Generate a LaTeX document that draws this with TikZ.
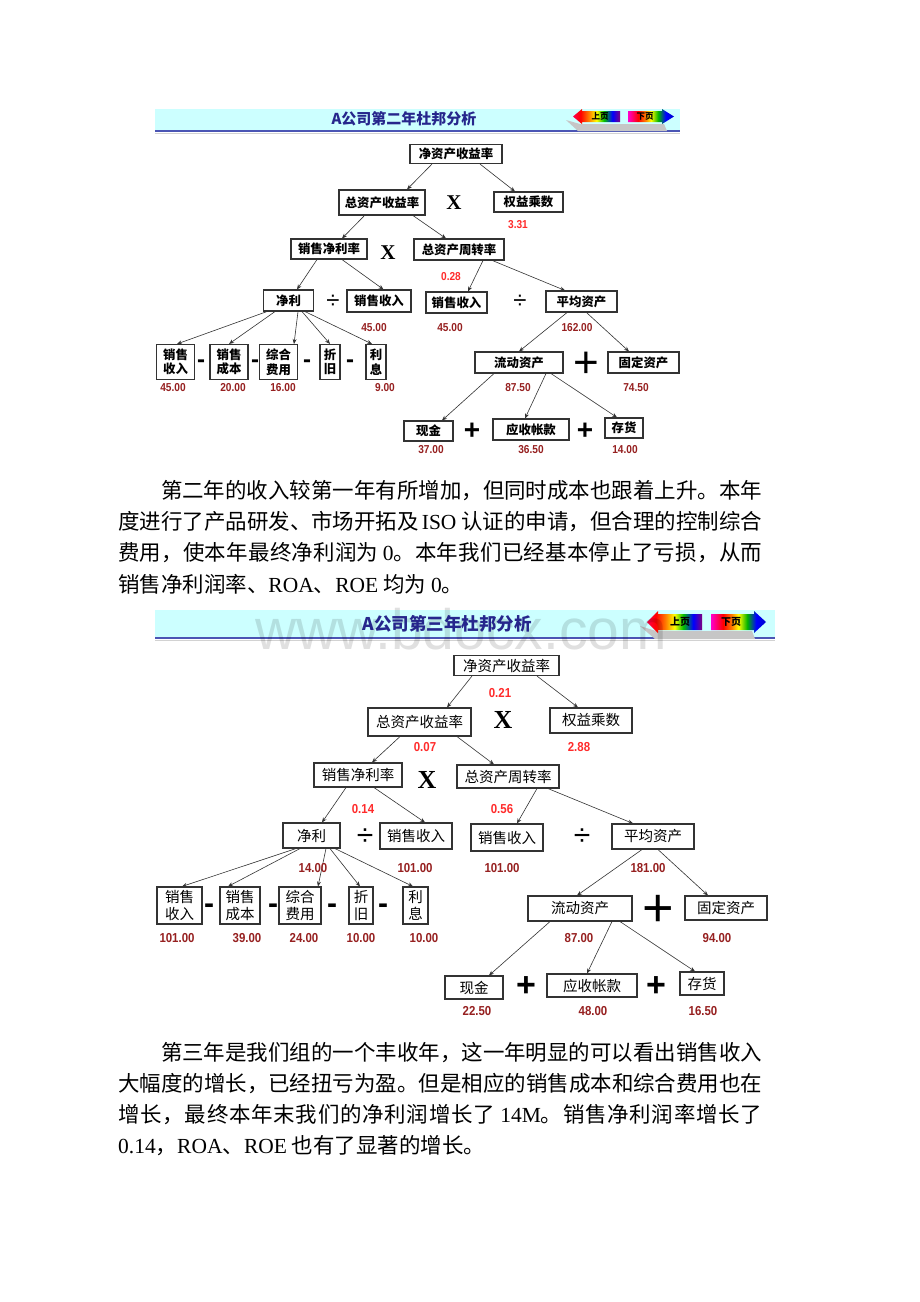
\documentclass[tikz,border=0pt]{standalone}
\usepackage{fontspec}
\setmainfont{Liberation Serif}
\newfontfamily\cjk{Noto Sans CJK SC}
\newfontfamily\arial{Liberation Sans}
\newfontfamily\arialn[FakeStretch=0.88]{Liberation Sans}
\usetikzlibrary{arrows.meta}
\definecolor{barcyan}{HTML}{CCFFFF}
\definecolor{barblue}{HTML}{4B55B4}
\definecolor{titleblue}{HTML}{26268C}
\definecolor{ratiored}{HTML}{FF2B2B}
\definecolor{valred}{HTML}{962020}
\definecolor{linegray}{HTML}{333333}
\pgfdeclarehorizontalshading{rainbowup}{100bp}{color(0bp)=(red!70!magenta); color(25bp)=(red!70!magenta); color(33bp)=(red); color(42bp)=(orange); color(50bp)=(yellow); color(58bp)=(green!75!black); color(67bp)=(blue); color(75bp)=(violet); color(100bp)=(violet)}
\pgfdeclarehorizontalshading{rainbowdown}{100bp}{color(0bp)=(magenta!80!red); color(25bp)=(magenta!80!red); color(36bp)=(red); color(44bp)=(orange); color(50bp)=(yellow); color(58bp)=(green!70!black); color(66bp)=(blue); color(75bp)=(blue!80!black); color(100bp)=(blue!80!black)}
% spread the characters of a justified line evenly
\newcommand\spreadtext[1]{\spreadloop#1\relax}
\def\spreadloop#1{\ifx\relax#1\else#1\hskip 0pt plus 1fil\expandafter\spreadloop\fi}

\begin{document}
\begin{tikzpicture}[x=1pt,y=-1pt,
  box1/.style={draw=black!80, line width=1.1pt, fill=white, inner sep=0pt, align=center,
    font=\cjk\bfseries\fontsize{12.4}{14.5}\selectfont},
  box2/.style={draw=black!80, line width=1.1pt, fill=white, inner sep=0pt, align=center,
    font=\cjk\fontsize{14.5}{17}\selectfont},
  arr/.style={draw=linegray, line width=0.6pt, -{Stealth[length=5pt,width=4pt]}},
  rat1/.style={text=ratiored, inner sep=0pt, font=\arialn\bfseries\fontsize{11.5}{12}\selectfont},
  val1/.style={text=valred, inner sep=0pt, font=\arialn\bfseries\fontsize{11.5}{12}\selectfont},
  rat2/.style={text=ratiored, inner sep=0pt, font=\arialn\bfseries\fontsize{13}{14}\selectfont},
  val2/.style={text=valred, inner sep=0pt, font=\arialn\bfseries\fontsize{13}{14}\selectfont},
  op/.style={inner sep=0pt, font=\arial\fontsize{#1}{#1}\selectfont},
  opb/.style={inner sep=0pt, font=\arial\bfseries\fontsize{#1}{#1}\selectfont},
  times/.style={inner sep=0pt, font=\bfseries\fontsize{#1}{#1}\selectfont},
  para/.style={anchor=west, inner sep=0pt, font=\fontsize{21.47}{31}\selectfont}
]
\fill[white] (0,0) rectangle (920,1302);
\useasboundingbox (0,0) rectangle (920,1302);

% ---- first chart: title bar
\fill[barcyan] (155,109) rectangle (680,130);
\draw[barblue, line width=2pt] (155,131) -- (680,131);
\draw[gray!35, line width=0.8pt] (155,133) -- (680,133);
\node[font=\cjk\bfseries\fontsize{15}{15}\selectfont, text=titleblue] (title1) at (404,119) {A公司第二年杜邦分析};
\fill[gray!45] (566,120) -- (580,124) -- (664,124) -- (667,131) -- (578,131) -- cycle;
\shade[shading=rainbowup] (573,116.5) -- (582,109) -- (582,111) -- (620,111) -- (620,122) -- (582,122) -- (582,124) -- cycle;
\shade[shading=rainbowdown] (628,111) -- (662,111) -- (662,109) -- (674,116.5) -- (662,124) -- (662,122) -- (628,122) -- cycle;
\node[font=\cjk\bfseries\fontsize{8.5}{9}\selectfont] (prev1) at (600,116.5) {上页};
\node[font=\cjk\bfseries\fontsize{8.5}{9}\selectfont] (next1) at (645,116.5) {下页};

% ---- first chart: boxes
\foreach \n/\x/\y/\w/\h/\t in {
    roe1/456/154/92/19/净资产收益率, roa1/382/202.5/86/25/总资产收益率,
    em1/528.5/202/69/20/权益乘数, npm1/329/249/76/20/销售净利率,
    tat1/459/249.5/90/21/总资产周转率, np1/288.5/300.5/50/21/净利,
    sra1/379/301/64/22/销售收入, srb1/456.5/302.5/61/21/销售收入,
    aa1/581.5/301.5/71/21/平均资产,
    sales1/175.5/362/38/35/销售\\收入, cost1/229/362/38/35/销售\\成本,
    exp1/278.5/362/38/35/综合\\费用, dep1/330/362/20/35/折\\旧,
    int1/376/362/20/35/利\\息,
    cur1/519/362.5/88/21/流动资产, fix1/643.5/362.5/71/21/固定资产,
    cash1/428.5/431/49/20/现金, ar1/531/429.5/76/21/应收帐款,
    inv1/624/428/38/20/存货}
  \node[box1, minimum width=\w, minimum height=\h] (\n) at (\x,\y) {\t};

\foreach \a/\sa/\b/\sb in {
    roe1/-24/roa1/25, roe1/24/em1/-13.5, roa1/-17.5/npm1/13, roa1/31/tat1/-13,
    npm1/-12/np1/8.5, npm1/13/sra1/4.5, tat1/24/srb1/11.5, tat1/33.5/aa1/-16.5,
    aa1/-14.5/cur1/0, aa1/5/fix1/-14.5, cur1/-25/cash1/13.5, cur1/27/ar1/-6,
    cur1/32/inv1/-7, np1/-21.5/sales1/1.5, np1/-13.5/cost1/0, np1/9.5/exp1/15.5,
    np1/13.5/dep1/0, np1/16.5/int1/-4}
  \draw[arr] ([xshift=\sa]\a.south) -- ([xshift=\sb]\b.north);

\foreach \x/\y/\t [count=\i] in {518/225/3.31, 451/277/0.28}
  \node[rat1] (ra\i) at (\x,\y) {\t};
\foreach \x/\y/\t [count=\i] in {374/328/45.00, 450/328/45.00, 577/328/162.00,
    173/388/45.00, 233/388/20.00, 283/388/16.00, 385/388/9.00, 518/388/87.50,
    636/388/74.50, 431/450/37.00, 531/450/36.50, 625/450/14.00}
  \node[val1] (va\i) at (\x,\y) {\t};

\node[times=21] (mula) at (454,203) {X};
\node[times=21] (mulb) at (388,253) {X};
\node[op=24] (diva) at (333,302) {÷};
\node[op=24] (divb) at (520,302) {÷};
\node[op=44, yshift=-2pt] (plusa) at (586,363) {+};
\node[opb=28, yshift=-1.5pt] (plusb) at (472,430) {+};
\node[opb=28, yshift=-1.5pt] (plusc) at (585,430) {+};
\foreach \x [count=\i] in {201,255,307,350}
  \node[opb=24, yshift=-2.4pt] (mina\i) at (\x,361) {-};

% ---- first text
\node[para] (p1a) at (160.8,491) {\cjk 第二年的收入较第一年有所增加，但同时成本也跟着上升。本年};
\node[para] (p1b) at (118,522) {\makebox[644pt][s]{{\cjk\spreadtext{度进行了产品研发、市场开拓及}}\hspace{3pt plus 1fil}ISO\hspace{5pt plus 1fil}{\cjk\spreadtext{认证的申请，但合理的控制综}合}}};
\node[para] (p1c) at (118,553) {\makebox[644pt][s]{{\cjk\spreadtext{费用，使本年最终净利润为}}\hspace{4pt plus 1fil}0{\cjk\spreadtext{。本年我们已经基本停止了亏损，从}而}}};
\node[para] (p1d) at (118,584) {{\cjk 销售净利润率、}ROA{\cjk 、}ROE\hspace{5pt}{\cjk 均为}\hspace{5pt}0{\cjk 。}};

% ---- second chart: title bar
\fill[barcyan] (155,610) rectangle (775,637);
\draw[barblue, line width=2.5pt] (155,638) -- (775,638);
\draw[gray!35, line width=0.8pt] (155,640.5) -- (775,640.5);
\fill[gray!45] (640,626) -- (656,631) -- (752,631) -- (755,639) -- (655,639) -- cycle;
\shade[shading=rainbowup] (647,622) -- (658,611) -- (658,614) -- (702,614) -- (702,630) -- (658,630) -- (658,633) -- cycle;
\shade[shading=rainbowdown] (711,614) -- (754,614) -- (754,611) -- (766,622) -- (754,633) -- (754,630) -- (711,630) -- cycle;
\node[font=\cjk\bfseries\fontsize{10}{10}\selectfont] (prev2) at (680,622) {上页};
\node[font=\cjk\bfseries\fontsize{10}{10}\selectfont] (next2) at (731,622) {下页};
\node[font=\arial\fontsize{57}{57}\selectfont, text=black, opacity=0.12, anchor=base, inner sep=0pt] (mark) at (461,649) {www.bdocx.com};
\node[font=\cjk\bfseries\fontsize{17.5}{17.5}\selectfont, text=titleblue] (title2) at (447,624) {A公司第三年杜邦分析};

% ---- second chart: boxes
\foreach \n/\x/\y/\w/\h/\t in {
    roe2/506.5/665.5/105/20/净资产收益率, roa2/419.5/722/103/28/总资产收益率,
    em2/591/720.5/82/25/权益乘数, npm2/358/775/88/24/销售净利率,
    tat2/508/776.5/102/23/总资产周转率, np2/311.5/835.5/57/25/净利,
    sra2/416/836/72/26/销售收入, srb2/507/837.5/72/27/销售收入,
    aa2/653/836.5/82/25/平均资产,
    sales2/179.5/905.5/45/37/销售\\收入, cost2/240/905.5/40/37/销售\\成本,
    exp2/300/905.5/42/37/综合\\费用, dep2/361/905.5/24/37/折\\旧,
    int2/415.5/905.5/25/37/利\\息,
    cur2/580/908.5/104/25/流动资产, fix2/726/908/82/24/固定资产,
    cash2/474/987.5/58/23/现金, ar2/592/985.5/90/23/应收帐款,
    inv2/702/983.5/44/23/存货}
  \node[box2, minimum width=\w, minimum height=\h] (\n) at (\x,\y) {\t};

\foreach \a/\sa/\b/\sb in {
    roe2/-34.5/roa2/27.5, roe2/30.5/em2/-13, roa2/-19.5/npm2/14, roa2/37.5/tat2/-14,
    npm2/-12/np2/10.5, npm2/16/sra2/9, tat2/29/srb2/10, tat2/40/aa2/-20,
    aa2/-11/cur2/-3, aa2/5/fix2/-18, cur2/-30/cash2/15, cur2/32/ar2/-5,
    cur2/40/inv2/-7, np2/-15.5/sales2/2.5, np2/-11.5/cost2/-12, np2/14.5/exp2/18,
    np2/18.5/dep2/-1, np2/23.5/int2/-2.5}
  \draw[arr] ([xshift=\sa]\a.south) -- ([xshift=\sb]\b.north);

\foreach \x/\y/\t [count=\i] in {500/693/0.21, 425/747/0.07, 579/747/2.88,
    363/809/0.14, 502/809/0.56}
  \node[rat2] (rb\i) at (\x,\y) {\t};
\foreach \x/\y/\t [count=\i] in {313/868/14.00, 415/868/101.00, 502/868/101.00,
    648/868/181.00, 177/938/101.00, 247/938/39.00, 304/938/24.00, 361/938/10.00,
    424/938/10.00, 579/938/87.00, 717/938/94.00, 477/1011/22.50, 593/1011/48.00,
    703/1011/16.50}
  \node[val2] (vb\i) at (\x,\y) {\t};

\node[times=26] (mulc) at (503,720) {X};
\node[times=26] (muld) at (427,780) {X};
\node[op=30] (divc) at (365,837) {÷};
\node[op=30] (divd) at (582,837) {÷};
\node[op=54, yshift=-2.5pt] (plusd) at (658,908) {+};
\node[opb=34, yshift=-2pt] (pluse) at (526,985) {+};
\node[opb=34, yshift=-2pt] (plusf) at (656,985) {+};
\foreach \x [count=\i] in {209,273,332,383}
  \node[opb=30, yshift=-3pt] (minb\i) at (\x,906) {-};

% ---- second text
\node[para] (p2a) at (160.8,1053) {\cjk 第三年是我们组的一个丰收年，这一年明显的可以看出销售收入};
\node[para] (p2b) at (118,1084) {\cjk 大幅度的增长，已经扭亏为盈。但是相应的销售成本和综合费用也在};
\node[para] (p2c) at (118,1115) {\makebox[644pt][s]{{\cjk\spreadtext{增长，最终本年末我们的净利润增长了}}\hspace{4pt plus 1fil}14M{\cjk\spreadtext{。销售净利润率增长}了}}};
\node[para] (p2d) at (118,1146) {0.14{\cjk ，}ROA{\cjk 、}ROE\hspace{5pt}{\cjk 也有了显著的增长。}};
\end{tikzpicture}
\end{document}
